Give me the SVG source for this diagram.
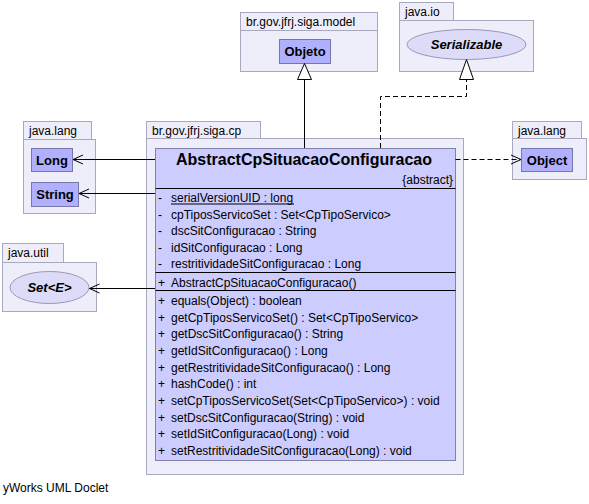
<svg xmlns="http://www.w3.org/2000/svg" width="589" height="504" viewBox="0 0 589 504">
<style>
text{font-family:"Liberation Sans",Arial,sans-serif;font-size:12px;fill:#000}
.pkg{fill:#eeeefa;stroke:#a8a8c0;stroke-width:1}
.box{fill:#b0b0ff;stroke:#7878a8;stroke-width:1}
.ell{fill:#dcdcf8;stroke:#9898b8;stroke-width:1}
.cls{fill:#ccccff;stroke:#8080a8;stroke-width:1}
.b{font-weight:bold;font-size:13px}
.bi{font-weight:bold;font-style:italic;font-size:13px}
.sep{stroke:#000;stroke-width:1}
.ln{stroke:#000;stroke-width:1;fill:none}
.dash{stroke:#000;stroke-width:1;fill:none;stroke-dasharray:5,3}
.tri{fill:#fff;stroke:#000;stroke-width:1}
</style>
<rect width="589" height="504" fill="#fff"/>

<g id="pkg-model">
<rect class="pkg" x="240.5" y="12.5" width="137" height="18"/>
<rect class="pkg" x="240.5" y="30.5" width="137" height="41"/>
<text x="246" y="26">br.gov.jfrj.siga.model</text>
<g id="Objeto"><rect class="box" x="279.5" y="39.5" width="51" height="24"/><text class="b" x="305" y="56" text-anchor="middle">Objeto</text></g>
</g>

<g id="pkg-io">
<rect class="pkg" x="399.5" y="2.5" width="54" height="18"/>
<rect class="pkg" x="399.5" y="20.5" width="134" height="51"/>
<text x="405" y="16">java.io</text>
<g id="Serializable"><ellipse class="ell" cx="466.5" cy="44.5" rx="59.5" ry="15"/><text class="bi" x="466.5" y="49" text-anchor="middle">Serializable</text></g>
</g>

<g id="pkg-lang-right">
<rect class="pkg" x="512.5" y="121.5" width="69" height="17"/>
<rect class="pkg" x="512.5" y="138.5" width="74" height="41"/>
<text x="518" y="135">java.lang</text>
<g id="Object"><rect class="box" x="521.5" y="148.5" width="51" height="23"/><text class="b" x="547" y="165" text-anchor="middle">Object</text></g>
</g>

<g id="pkg-lang-left">
<rect class="pkg" x="23.5" y="121.5" width="68" height="18"/>
<rect class="pkg" x="23.5" y="139.5" width="72" height="74"/>
<text x="29" y="135">java.lang</text>
<g id="Long"><rect class="box" x="31.5" y="148.5" width="41" height="23"/><text class="b" x="52" y="165" text-anchor="middle">Long</text></g>
<g id="String"><rect class="box" x="31.5" y="182.5" width="47" height="24"/><text class="b" x="55" y="199" text-anchor="middle">String</text></g>
</g>

<g id="pkg-util">
<rect class="pkg" x="2.5" y="243.5" width="61" height="19"/>
<rect class="pkg" x="2.5" y="262.5" width="94" height="49"/>
<text x="8" y="257">java.util</text>
<g id="Set"><ellipse class="ell" cx="49.5" cy="287.5" rx="39.5" ry="16"/><text class="bi" x="49.5" y="292" text-anchor="middle">Set&lt;E&gt;</text></g>
</g>

<g id="pkg-cp">
<rect class="pkg" x="146.5" y="121.5" width="114" height="17"/>
<rect class="pkg" x="146.5" y="138.5" width="317" height="336"/>
<text x="152" y="135">br.gov.jfrj.siga.cp</text>
</g>

<g id="AbstractCpSituacaoConfiguracao">
<rect class="cls" x="155.5" y="148.5" width="300" height="312"/>
<text x="304" y="165" text-anchor="middle" style="font-weight:bold;font-size:16px">AbstractCpSituacaoConfiguracao</text>
<text x="453" y="184" text-anchor="end">{abstract}</text>
<line class="sep" x1="155.5" y1="188.5" x2="455.5" y2="188.5"/>
<g>
<text x="158" y="202">-</text><text x="171" y="202">serialVersionUID : long</text>
<line class="sep" x1="171" y1="204" x2="294" y2="204"/>
<text x="158" y="218.5">-</text><text x="171" y="218.5">cpTiposServicoSet : Set&lt;CpTipoServico&gt;</text>
<text x="158" y="235">-</text><text x="171" y="235">dscSitConfiguracao : String</text>
<text x="158" y="251.5">-</text><text x="171" y="251.5">idSitConfiguracao : Long</text>
<text x="158" y="268">-</text><text x="171" y="268">restritividadeSitConfiguracao : Long</text>
</g>
<line class="sep" x1="155.5" y1="272.5" x2="455.5" y2="272.5"/>
<text x="158" y="287">+</text><text x="171" y="287">AbstractCpSituacaoConfiguracao()</text>
<line class="sep" x1="155.5" y1="290.5" x2="455.5" y2="290.5"/>
<g>
<text x="158" y="305">+</text><text x="171" y="305">equals(Object) : boolean</text>
<text x="158" y="321.7">+</text><text x="171" y="321.7">getCpTiposServicoSet() : Set&lt;CpTipoServico&gt;</text>
<text x="158" y="338.3">+</text><text x="171" y="338.3">getDscSitConfiguracao() : String</text>
<text x="158" y="355">+</text><text x="171" y="355">getIdSitConfiguracao() : Long</text>
<text x="158" y="371.7">+</text><text x="171" y="371.7">getRestritividadeSitConfiguracao() : Long</text>
<text x="158" y="388.3">+</text><text x="171" y="388.3">hashCode() : int</text>
<text x="158" y="405">+</text><text x="171" y="405">setCpTiposServicoSet(Set&lt;CpTipoServico&gt;) : void</text>
<text x="158" y="421.7">+</text><text x="171" y="421.7">setDscSitConfiguracao(String) : void</text>
<text x="158" y="438.3">+</text><text x="171" y="438.3">setIdSitConfiguracao(Long) : void</text>
<text x="158" y="455">+</text><text x="171" y="455">setRestritividadeSitConfiguracao(Long) : void</text>
</g>
</g>

<g id="connectors">
<line class="ln" x1="304.5" y1="148" x2="304.5" y2="79.5"/>
<polygon class="tri" points="304.5,63.5 297.5,79.5 311.5,79.5"/>
<polyline class="dash" points="380.5,148 380.5,96.5 466.5,96.5 466.5,79.5"/>
<polygon class="tri" points="466.5,59.5 459.5,79.5 473.5,79.5"/>
<line class="dash" x1="455.5" y1="159.5" x2="521" y2="159.5"/>
<polyline class="ln" points="511,155 521,159.5 511,164"/>
<line class="ln" x1="155" y1="159.5" x2="73" y2="159.5"/>
<polyline class="ln" points="83,155 73,159.5 83,164"/>
<line class="ln" x1="155" y1="193.5" x2="79" y2="193.5"/>
<polyline class="ln" points="89,189 79,193.5 89,198"/>
<line class="ln" x1="155" y1="288.5" x2="89.5" y2="288.5"/>
<polyline class="ln" points="99.5,284 89.5,288.5 99.5,293"/>
</g>

<text x="3" y="492">yWorks UML Doclet</text>
</svg>
